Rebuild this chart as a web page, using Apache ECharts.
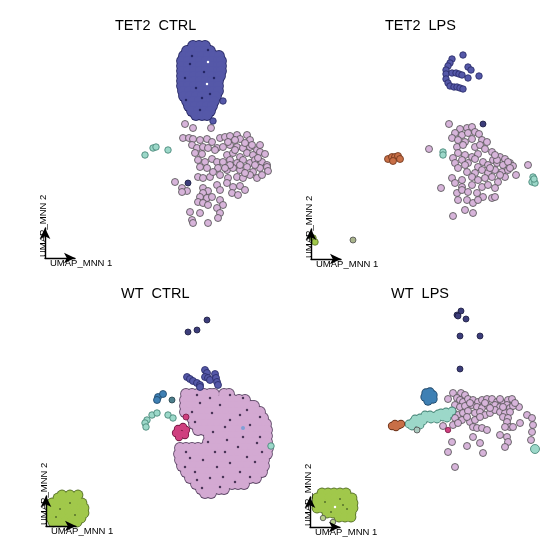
<!DOCTYPE html>
<html><head><meta charset="utf-8">
<script src="https://cdn.jsdelivr.net/npm/echarts@6/dist/echarts.min.js"></script>
<style>html,body{margin:0;padding:0;background:#fff}#c{width:551px;height:554px}</style>
</head><body><div id="c"></div><script>
// ---------- titles / axis names ----------
const panelTitles = ['TET2  CTRL', 'TET2  LPS', 'WT  CTRL', 'WT  LPS'];
const axisNames = ['UMAP_MNN 1', 'UMAP_MNN 2'];

// ---------- TET2 CTRL ----------
// dense cluster given as rows: [y, x1, x2, ...]
const tet2CtrlBlueRows = [
  [4.6, 19.3,19.9,20.5],
  [5.1, 18.7,19.3,19.9,20.5,21.0],
  [5.6, 18.4,19.0,19.6,20.2,20.8,21.4,21.9],
  [6.1, 18.2,18.8,19.4,20.0,20.6,21.2,21.8,22.1],
  [6.6, 18.2,18.8,19.4,20.0,20.6,21.2,21.8,22.1],
  [7.1, 18.2,18.8,19.4,20.0,20.6,21.2,21.8,22.1],
  [7.6, 18.2,18.8,19.4,20.0,20.6,21.2,21.8,22.0],
  [8.1, 18.2,18.8,19.4,20.0,20.6,21.2,21.8],
  [8.6, 18.2,18.8,19.4,20.0,20.6,21.2,21.8],
  [9.1, 18.3,18.9,19.5,20.1,20.7,21.3,21.8],
  [9.6, 18.4,19.0,19.6,20.2,20.8,21.4,21.6],
  [10.1, 18.7,19.3,19.9,20.5,21.1,21.4],
  [10.6, 18.9,19.5,20.1,20.7,21.2],
  [11.1, 19.2,19.8,20.4,21.0],
  [11.5, 19.6,20.2,20.7]
];
const tet2CtrlBlueSpecks = [[19.0,6.4],[20.4,7.2],[19.6,8.8],[21.0,9.4],[18.6,10.0],[20.0,11.0],[21.4,7.8],[19.2,5.6],[20.8,5.0],[18.5,7.8],[20.2,9.8]];
const tet2CtrlBlueHoles = [[20.8,6.2],[20.7,8.4]];
const tet2CtrlBlueDots = [[22.3,10.1],[21.3,12.1]];
const tet2CtrlNavy = [[18.8,18.3]];
const tet2CtrlTeal = [[15.3,14.8],[15.6,14.7],[16.8,15.0],[14.5,15.5]];
const tet2CtrlPink = [
  [18.5,12.4],[19.3,12.8],[21.1,12.8],
  [18.3,13.8],[18.9,13.8],[19.3,13.9],[20.0,14.0],[20.7,13.9],[21.2,14.2],[22.0,13.8],[22.5,13.7],[23.0,13.6],[23.7,13.5],[24.0,13.9],[24.7,13.5],[25.0,14.0],
  [19.2,14.5],[19.7,14.8],[20.3,14.7],[20.8,14.8],[21.7,14.8],[22.3,14.7],[23.0,14.5],[23.7,14.7],[24.3,14.8],[25.0,14.7],[25.7,15.0],[26.0,14.5],
  [19.5,15.3],[20.2,15.4],[22.7,15.5],[23.3,15.3],[24.0,15.7],[24.7,15.3],[25.3,15.5],[26.0,15.2],[26.5,15.4],
  [19.8,16.0],[20.5,16.2],[21.2,15.9],[21.7,16.2],[22.3,16.2],[23.0,16.0],[23.7,16.3],[24.3,16.0],[25.0,16.3],[25.5,16.0],[26.2,16.2],[26.7,16.5],
  [20.0,16.7],[20.7,16.8],[22.7,17.0],[23.3,16.8],[24.0,17.0],[24.7,16.7],[25.3,17.2],[26.0,16.8],[26.7,16.7],[26.8,17.1],
  [19.8,17.7],[20.3,17.8],[21.0,17.7],[22.0,17.5],[22.8,17.8],[23.7,17.7],[24.3,17.8],[25.0,17.5],[25.7,17.8],[26.2,17.5],
  [17.5,18.2],[18.2,18.8],[18.7,19.1],[18.2,19.2],[20.3,18.8],[20.8,19.1],[20.3,19.3],[21.7,18.5],[22.0,19.0],[22.7,18.3],[23.3,18.7],[24.0,18.6],[23.2,19.3],[23.8,19.5],[24.5,19.0],
  [20.0,19.7],[20.7,19.8],[21.2,19.7],[19.8,20.2],[20.3,20.3],[20.8,20.5],[22.0,20.0],[22.3,20.5],
  [19.0,21.2],[20.0,21.3],[21.7,20.8],[22.0,21.3],[21.8,21.8],[19.2,22.0],[19.3,22.3],[20.8,22.3],
  [21.5,15.0],[24.5,14.3],[23.5,15.0],[25.5,16.5],[24.5,17.3],[23.0,16.5],[22.5,16.8],[24.0,16.5],[25.2,14.5],[25.8,15.8],[23.5,14.0],[22.8,14.2],[21.8,16.8],[21.3,17.2]
];

// ---------- TET2 LPS ----------
const tet2LpsBlue = [[18.8,5.5],[17.7,5.9],[17.5,6.3],[17.3,6.6],[19.3,6.7],[19.6,7.0],[17.1,7.0],[17.1,7.4],[17.7,7.3],[18.1,7.3],[18.4,7.4],[18.7,7.5],[19.3,7.8],[20.4,7.6],[17.1,7.9],[17.3,8.3],[17.5,8.6],[17.9,8.7],[18.2,8.7],[18.5,8.8],[18.8,8.9]];
const tet2LpsNavy = [[20.8,12.4]];
const tet2LpsPink = [
  [17.4,12.4],[18.5,12.9],[19.2,12.8],[19.7,12.7],
  [18.0,13.3],[18.7,13.5],[19.3,13.3],[20.0,13.2],[20.4,13.4],
  [17.7,13.8],[18.3,14.0],[19.0,14.2],[19.7,13.9],[20.7,14.0],[21.2,14.2],
  [18.2,14.7],[18.8,14.5],[20.0,14.7],[20.5,14.5],[21.0,14.9],[15.4,14.9],
  [18.3,15.3],[19.0,15.5],[19.7,15.7],[20.3,15.4],[21.7,15.2],
  [17.8,15.8],[18.7,16.0],[19.3,16.3],[20.0,15.9],[20.8,16.2],[21.8,16.0],[22.5,15.7],[23.0,15.9],
  [18.0,16.3],[19.0,16.5],[20.3,16.7],[21.3,16.5],[22.2,16.3],[22.8,16.5],[23.5,16.3],[23.8,16.6],[25.3,16.5],
  [18.3,16.8],[19.2,17.2],[20.0,17.3],[20.7,17.0],[21.3,17.3],[22.0,17.0],[22.7,17.2],[23.3,17.0],[24.1,17.5],
  [17.7,17.8],[18.7,18.0],[19.7,17.7],[20.3,18.0],[21.0,17.8],[21.7,17.7],[22.3,18.2],[23.0,17.7],
  [16.6,18.8],[18.0,18.3],[18.7,18.7],[19.7,18.5],[20.7,18.7],[21.3,18.5],[22.0,18.8],
  [18.2,19.3],[18.7,19.0],[19.3,19.2],[20.2,19.3],[20.8,19.7],[21.7,19.8],[22.0,19.7],
  [18.3,20.0],[19.2,20.0],[19.8,20.3],[20.3,20.0],[19.0,21.0],[19.8,21.3],[17.8,21.6],
  [22.2,16.0],[23.3,16.2],[22.5,17.5],[23.5,16.8],[21.5,16.8],[22.0,15.5]
];
const tet2LpsTeal = [[16.8,15.2],[16.8,15.5],[25.8,17.7],[25.7,18.2],[26.0,18.3],[25.9,17.9]];
const tet2LpsOrange = [[11.3,15.9],[11.7,15.7],[12.0,15.7],[12.3,15.6],[12.5,15.9],[11.8,16.1]];
const tet2LpsGreen = [[3.8,23.8],[4.0,24.2]];
const tet2LpsOlive = [[7.8,24.0]];

// ---------- WT CTRL ----------
const wtCtrlCloudRows = [
  [11.7, 18.6,19.2,19.8,20.4,21.0,21.4,22.4,22.9],
  [12.3, 18.5,19.1,19.7,20.3,20.9,21.5,22.1,22.7,23.3,23.9,24.5],
  [12.9, 18.5,19.1,19.7,20.3,20.9,21.5,22.1,22.7,23.3,23.9,24.5,25.1,25.4],
  [13.5, 18.5,19.1,19.7,20.3,20.9,21.5,22.1,22.7,23.3,23.9,24.5,25.1,25.7,26.0],
  [14.1, 19.2,19.8,20.4,21.0,21.6,22.2,22.8,23.4,24.0,24.6,25.2,25.8,26.3],
  [14.7, 19.4,20.0,20.6,21.2,21.8,22.4,23.0,23.6,24.2,24.8,25.4,26.0,26.6],
  [15.3, 19.8,20.4,21.0,21.6,22.2,22.8,23.4,24.0,24.6,25.2,25.8,26.4,26.7],
  [15.9, 20.9,21.5,22.1,22.7,23.3,23.9,24.5,25.1,25.7,26.3,26.7],
  [16.5, 20.8,21.4,22.0,22.6,23.2,23.8,24.4,25.0,25.6,26.2,26.7],
  [17.1, 18.0,18.6,19.2,19.8,20.4,21.0,21.6,22.2,22.8,23.4,24.0,24.6,25.2,25.8,26.4,26.8],
  [17.7, 17.9,18.5,19.1,19.7,20.3,20.9,21.5,22.1,22.7,23.3,23.9,24.5,25.1,25.7,26.3,26.7],
  [18.3, 18.0,18.6,19.2,19.8,20.4,21.0,21.6,22.2,22.8,23.4,24.0,24.6,25.2,25.8,26.4],
  [18.9, 18.2,18.8,19.4,20.0,20.6,21.2,21.8,22.4,23.0,23.6,24.2,24.8,25.4,26.0,26.4],
  [19.5, 18.6,19.2,19.8,20.4,21.0,21.6,22.2,22.8,23.4,24.0,24.6,25.2,25.8,26.2],
  [20.1, 19.0,19.6,20.2,20.8,21.4,22.0,22.6,23.2,23.8,24.4,25.0,25.6],
  [20.7, 19.6,20.2,20.8,21.4,22.0,22.6,23.2,23.8,24.4],
  [21.2, 20.1,20.7,21.3,21.9,22.4],
  [21.6, 20.5,21.1]
];
const wtCtrlCloudSpecks = [[19.2,13.5],[21.2,13.6],[22.0,12.8],[23.0,14.3],[24.7,13.3],[21.3,15.5],[20.8,16.5],[22.7,16.3],[24.3,16.0],[25.7,16.6],[19.0,18.1],[20.3,18.3],[21.7,19.0],[23.0,18.6],[24.7,18.0],[19.7,20.3],[21.0,20.1],[22.3,20.0],[24.0,19.5],[20.2,21.1],[19.7,11.8],[21.0,12.1],[23.0,11.8],[24.3,12.1],[19.5,14.5],[22.5,15.0],[25.0,14.8],[26.0,14.0],[23.8,17.0],[25.5,18.5],[18.5,19.0],[21.5,17.5],[23.5,20.5],[25.0,20.0],[26.2,17.5],[22.5,17.5],[20.0,12.6],[18.6,17.5],[19.5,19.5],[26.0,16.0],[24.0,13.8],[22.0,21.0]];
const wtCtrlLightBlue = [[24.3,15.1]];
const wtCtrlBlue = [[18.7,10.0],[19.0,10.2],[19.3,10.4],[19.7,10.6],[20.0,10.8],[20.5,9.3],[20.7,9.6],[20.5,10.0],[20.8,10.1],[21.0,10.3],[21.5,9.7],[21.6,10.1],[21.7,10.5],[21.8,10.8],[20.0,11.0]];
const wtCtrlNavy = [[20.7,4.3],[18.8,5.5],[19.7,5.3]];
const wtCtrlSteel = [[15.8,12.0],[16.3,11.7],[15.7,12.3]];
const wtCtrlDarkTeal = [[17.2,12.3]];
const wtCtrlTeal = [[15.2,13.8],[15.7,13.6],[14.7,14.3],[14.5,14.6],[14.6,15.0],[16.8,13.8],[17.3,14.1],[27.1,16.9]];
const wtCtrlMagentaDot = [[18.6,14.0]];
const wtCtrlMagenta = [[17.8,15.2],[18.3,15.0],[18.6,15.3],[17.6,15.6],[18.1,15.7],[18.5,15.8],[17.9,16.0]];
const wtCtrlGreenRows = [
  [21.8, 6.2,7.0,7.8],
  [22.1, 5.8,6.4,7.0,7.6],
  [22.6, 5.2,5.8,6.4,7.0,7.6,8.2],
  [23.1, 5.1,5.7,6.3,6.9,7.5,8.1,8.4],
  [23.6, 5.1,5.7,6.3,6.9,7.5,8.1,8.4],
  [24.1, 5.1,5.7,6.3,6.9,7.5,8.1],
  [24.5, 5.3,5.9,6.5,7.1,7.7]
];
const wtCtrlGreenSpecks = [[6.0,23.2],[7.0,22.6],[7.5,23.8],[5.6,24.0]];

// ---------- WT LPS ----------
const wtLpsNavy = [[18.6,3.4],[18.2,3.8],[18.3,3.9],[19.1,4.2],[18.5,5.9],[20.5,5.9],[18.5,9.2]];
const wtLpsSteel = [[15.1,11.6],[15.5,11.5],[15.8,11.8],[15.0,12.0],[15.4,12.1],[15.8,12.2],[15.3,12.4]];
const wtLpsTeal = [[13.4,14.7],[13.8,14.5],[14.2,14.6],[14.0,14.2],[14.5,14.1],[14.8,14.4],[15.2,14.1],[15.6,14.2],[15.0,13.8],[15.5,13.8],[16.0,13.9],[16.3,13.7],[16.6,13.6],[16.2,14.2],[16.8,14.0],[17.1,13.5],[17.4,13.7],[17.2,14.1],[17.7,13.4],[14.5,14.8],[13.7,14.9]];
const wtLpsTealGray = [[14.2,15.3]];
const wtLpsTealBig = [[26.0,17.2]];
const wtLpsOrange = [[11.7,14.9],[12.0,14.7],[12.4,14.8],[12.6,14.7],[12.1,15.0]];
const wtLpsMagenta = [[17.3,15.3]];
const wtLpsPink = [
  [17.8,11.6],[18.6,11.6],[19.0,11.8],[17.3,12.2],
  [18.2,12.1],[18.5,12.3],[18.8,12.5],[19.3,12.2],[19.8,12.3],[20.3,12.5],[20.7,12.3],[21.2,12.2],[21.7,12.2],[22.2,12.5],[22.7,12.6],[23.3,12.3],[23.7,12.2],[24.4,13.0],
  [18.0,12.8],[18.5,13.0],[19.0,12.9],[19.7,12.8],[20.2,13.0],[20.7,13.1],[21.3,12.9],[22.0,12.8],[22.5,13.0],[23.2,12.8],[23.5,13.1],[23.8,12.9],
  [17.8,13.5],[18.3,13.8],[18.8,13.6],[19.3,13.4],[20.0,13.6],[20.5,13.5],[21.0,13.8],[21.5,13.6],[22.0,13.3],[22.5,13.5],[23.0,13.6],[23.5,13.5],
  [18.0,14.1],[18.7,14.3],[19.5,14.5],[20.0,14.3],[19.8,15.0],[20.2,15.1],[20.7,15.1],[21.2,15.3],
  [17.8,14.8],[18.3,14.6],[22.8,14.0],[23.3,14.1],[23.2,14.5],[23.5,15.0],[23.0,15.0],[23.8,15.0],[24.5,14.6],
  [25.2,13.8],[25.7,14.1],[25.8,14.8],[25.7,15.5],[25.6,16.3],
  [22.5,15.8],[23.2,16.0],[23.3,16.5],[23.0,17.0],
  [19.8,16.0],[19.2,16.9],[20.5,16.6],[20.8,17.6],[17.7,16.5],[17.3,17.5],[18.0,19.0],[16.8,14.9],
  [19.5,12.6],[21.0,12.6],[22.5,12.2],[24.0,12.6],[22.8,13.0],[21.5,13.1],[19.2,14.0],[20.5,14.0]
];
const wtLpsGreenRows = [
  [21.6, 4.7,5.3,5.9,6.5,7.1],
  [22.1, 4.2,4.8,5.4,6.0,6.6,7.2,7.7],
  [22.6, 4.2,4.8,5.4,6.0,6.6,7.2,7.8],
  [23.1, 4.2,4.8,5.4,6.0,6.6,7.2,7.8],
  [23.6, 5.2,5.8,6.4,7.0,7.6],
  [24.0, 6.4,7.0,7.6]
];
const wtLpsGreenPale = [[4.8,24.1],[5.8,24.5]];
const wtLpsGreenSpecks = [[5.0,22.5],[6.5,22.2],[7.2,23.2],[5.6,23.5],[6.8,22.8]];
const wtLpsGreenHoles = [[6.0,23.0]];

// ---------- layout ----------
const panelBoxes = [[0,0],[275,0],[0,277],[275,277]];
const arrowOrigins = [[45,258],[311,259],[46,526],[310,527]];
const titlePos = [[115,18],[385,18],[121,286],[391,286]];

const FONT = "'Liberation Sans', Arial, Helvetica, sans-serif";
const C = {
  pink:'#d7b4da', pinkCloud:'#d3a9d2', pinkEdge:'#5f4868', border:'#4d4d4d',
  blue:'#5558a8', blueEdge:'#262865', navy:'#3c3d7a', navyEdge:'#1c1c3d',
  teal:'#9cd8c9', tealEdge:'#3f7d70', orange:'#c86f47', orangeEdge:'#6a3219',
  steel:'#3f80b4', steelEdge:'#1b4365', magenta:'#cf3f7f', magentaEdge:'#761944',
  green:'#a1c84b', greenEdge:'#56702a', olive:'#a9b48c', speck:'#4a3558'
};

function rowsToPoints(rows){
  const out = [];
  rows.forEach(r => { for (let i = 1; i < r.length; i++) out.push([r[i], r[0]]); });
  return out;
}
function dots(g, data, fill, edge, size, bw){
  return {type:'scatter', xAxisIndex:g, yAxisIndex:g, data:data, symbolSize:size, silent:true,
    animation:false, itemStyle:{color:fill, borderColor:edge || fill, borderWidth:bw || 0, opacity:1}};
}
function blob(g, data, fill, edge, size){
  return [dots(g, data, edge, null, size + 1.8, 0), dots(g, data, fill, null, size, 0)];
}

const grids = [], xAxes = [], yAxes = [];
panelBoxes.forEach((p, i) => {
  grids.push({left:p[0], top:p[1], width:276, height:277, containLabel:false});
  xAxes.push({gridIndex:i, type:'value', min:0, max:27.6, show:false});
  yAxes.push({gridIndex:i, type:'value', min:0, max:27.7, inverse:true, show:false});
});
const AL = 30;
arrowOrigins.forEach((o, i) => {
  const gi = 4 + i;
  grids.push({left:o[0], top:o[1] - AL, width:AL, height:AL, containLabel:false});
  const line = {show:true, onZero:false, symbol:['none','arrow'], symbolSize:[8,11], lineStyle:{color:'#000', width:1.4}};
  xAxes.push({gridIndex:gi, type:'value', min:0, max:1, z:10, axisLine:line, axisTick:{show:false}, axisLabel:{show:false}, splitLine:{show:false},
    name:axisNames[0], nameLocation:'start', nameGap:-5,
    nameTextStyle:{align:'left', verticalAlign:'top', fontSize:9.5, color:'#000', fontFamily:FONT}});
  yAxes.push({gridIndex:gi, type:'value', min:0, max:1, z:10, axisLine:line, axisTick:{show:false}, axisLabel:{show:false}, splitLine:{show:false},
    name:axisNames[1], nameLocation:'start', nameGap:-1, nameRotate:90,
    nameTextStyle:{align:'left', verticalAlign:'bottom', lineHeight:4, fontSize:9.5, color:'#000', fontFamily:FONT}});
});

const series = [].concat(
  // TET2 CTRL
  dots(0, tet2CtrlPink, C.pink, C.border, 7, 0.8),
  dots(0, tet2CtrlTeal, C.teal, C.tealEdge, 6.5, 0.8),
  blob(0, rowsToPoints(tet2CtrlBlueRows), C.blue, C.blueEdge, 10),
  dots(0, tet2CtrlBlueSpecks, C.blueEdge, null, 2.5),
  dots(0, tet2CtrlBlueHoles, '#ffffff', null, 2.5),
  dots(0, tet2CtrlBlueDots, C.blue, C.blueEdge, 6.5, 0.8),
  dots(0, tet2CtrlNavy, C.navy, C.navyEdge, 6, 0.8),
  // TET2 LPS
  dots(1, tet2LpsPink, C.pink, C.border, 7, 0.8),
  dots(1, tet2LpsNavy, C.navy, C.navyEdge, 6, 0.8),
  dots(1, tet2LpsBlue, C.blue, C.blueEdge, 6.5, 0.8),
  dots(1, tet2LpsTeal, C.teal, C.tealEdge, 6.5, 0.8),
  dots(1, tet2LpsOrange, C.orange, C.orangeEdge, 7, 0.8),
  dots(1, tet2LpsGreen, C.green, C.greenEdge, 6.5, 0.8),
  dots(1, tet2LpsOlive, C.olive, C.border, 6, 0.8),
  // WT CTRL
  blob(2, rowsToPoints(wtCtrlCloudRows), C.pinkCloud, C.pinkEdge, 10),
  dots(2, wtCtrlCloudSpecks, C.speck, null, 2.5),
  dots(2, wtCtrlLightBlue, '#7f9fd6', null, 4),
  dots(2, wtCtrlBlue, C.blue, C.blueEdge, 7, 0.8),
  dots(2, wtCtrlNavy, C.navy, C.navyEdge, 6, 0.8),
  dots(2, wtCtrlSteel, C.steel, C.steelEdge, 7, 0.8),
  dots(2, wtCtrlDarkTeal, '#4d7f8c', '#23414a', 6, 0.8),
  dots(2, wtCtrlTeal, C.teal, C.tealEdge, 6.5, 0.8),
  dots(2, wtCtrlMagentaDot, C.magenta, C.magentaEdge, 6, 0.8),
  blob(2, wtCtrlMagenta, C.magenta, C.magentaEdge, 6.5),
  blob(2, rowsToPoints(wtCtrlGreenRows), C.green, C.greenEdge, 9),
  dots(2, wtCtrlGreenSpecks, C.greenEdge, null, 2),
  // WT LPS
  dots(3, wtLpsPink, C.pink, C.border, 7, 0.8),
  dots(3, wtLpsNavy, C.navy, C.navyEdge, 6, 0.8),
  blob(3, wtLpsSteel, C.steel, C.steelEdge, 7.5),
  blob(3, wtLpsTeal, C.teal, C.tealEdge, 7),
  dots(3, wtLpsTealGray, '#a9c9be', C.border, 6, 0.8),
  blob(3, wtLpsOrange, C.orange, C.orangeEdge, 6.5),
  dots(3, wtLpsMagenta, C.magenta, C.magentaEdge, 5.5, 0.8),
  dots(3, wtLpsTealBig, C.teal, C.tealEdge, 9, 0.8),
  blob(3, rowsToPoints(wtLpsGreenRows), C.green, C.greenEdge, 9),
  dots(3, wtLpsGreenSpecks, C.greenEdge, null, 2),
  dots(3, wtLpsGreenHoles, '#ffffff', null, 2.5),
  dots(3, wtLpsGreenPale, '#b8cf8c', C.border, 5.5, 0.8)
);

const titles = panelTitles.map((t, i) => ({
  text:t, left:titlePos[i][0], top:titlePos[i][1], padding:0,
  textStyle:{fontSize:14.5, fontWeight:'normal', color:'#000', fontFamily:FONT}
}));

const chart = echarts.init(document.getElementById('c'), null, {renderer:'canvas'});
chart.setOption({
  backgroundColor:'#ffffff', animation:false,
  title:titles, grid:grids, xAxis:xAxes, yAxis:yAxes, series:series
});
</script></body></html>
